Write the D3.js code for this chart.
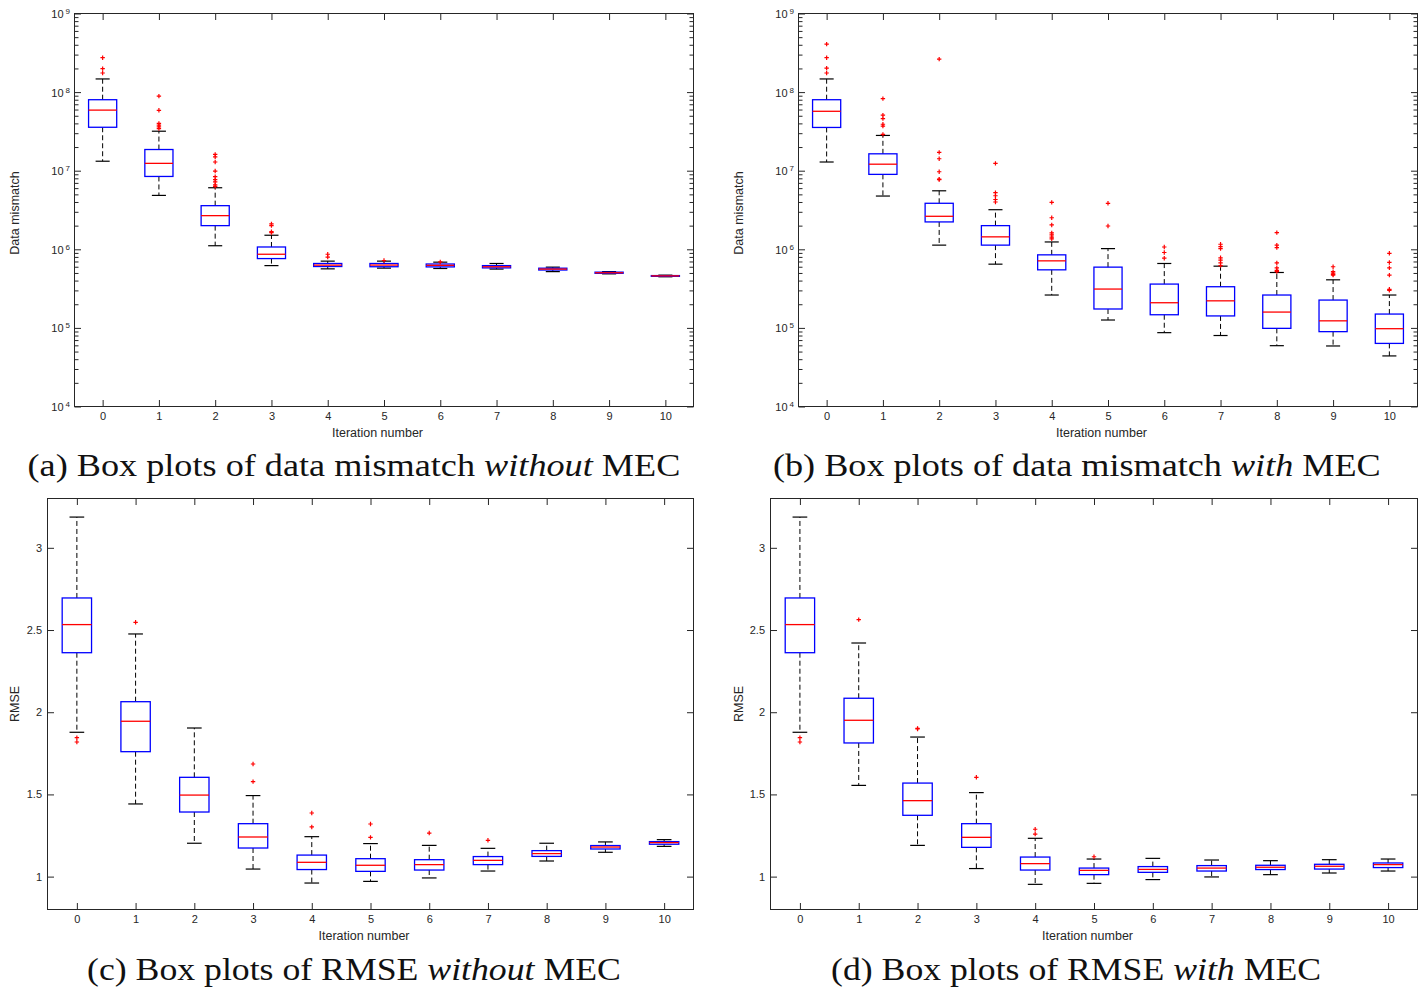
<!DOCTYPE html>
<html><head><meta charset="utf-8">
<script src="https://cdn.jsdelivr.net/npm/d3@7"></script>
<style>body{margin:0;background:#fff;} svg{display:block;}</style>
</head><body>
<svg id="chart" width="1424" height="991"></svg>
<script>
// ---------- categories & tick labels ----------
const iterations = [0, 1, 2, 3, 4, 5, 6, 7, 8, 9, 10];
const logTicks = [1e4, 1e5, 1e6, 1e7, 1e8, 1e9];
const rmseTicks = [1, 1.5, 2, 2.5, 3];
const captions = [
  ["(a) Box plots of data mismatch ", "without", " MEC"],
  ["(b) Box plots of data mismatch ", "with", " MEC"],
  ["(c) Box plots of RMSE ", "without", " MEC"],
  ["(d) Box plots of RMSE ", "with", " MEC"]
];

// ---------- (a) data mismatch without MEC ----------
const aHigh = [1.47e8, 3.18e7, 6.07e6, 1.51e6, 7.07e5, 7.07e5, 6.86e5, 6.6e5, 5.93e5, 5.2e5, 4.69e5];
const aQ3   = [8.0e7, 1.86e7, 3.59e6, 1.07e6, 6.6e5, 6.6e5, 6.5e5, 6.2e5, 5.75e5, 5.12e5, 4.63e5];
const aMed  = [5.9e7, 1.24e7, 2.68e6, 8.65e5, 6.29e5, 6.3e5, 6.25e5, 6.0e5, 5.6e5, 5.03e5, 4.59e5];
const aQ1   = [3.57e7, 8.45e6, 2.0e6, 7.62e5, 6.04e5, 6.0e5, 5.97e5, 5.8e5, 5.45e5, 4.95e5, 4.53e5];
const aLow  = [1.32e7, 4.85e6, 1.11e6, 6.2e5, 5.64e5, 5.76e5, 5.7e5, 5.6e5, 5.2e5, 4.87e5, 4.47e5];
const aOut  = [[2.74e8, 1.99e8, 1.75e8], [8.9e7, 5.87e7, 4.0e7, 3.8e7, 3.6e7, 3.44e7],
  [1.61e7, 1.5e7, 1.29e7, 9.9e6, 8.4e6, 7.7e6, 7.2e6, 6.6e6, 6.3e6], [2.1e6, 2.0e6, 1.68e6, 1.63e6],
  [8.65e5, 7.94e5], [7.2e5], [6.9e5], [], [], [], []];

// ---------- (b) data mismatch with MEC ----------
const bHigh = [1.47e8, 2.81e7, 5.55e6, 3.19e6, 1.24e6, 1.02e6, 6.6e5, 6.1e5, 5.07e5, 4.09e5, 2.62e5];
const bQ3   = [8.0e7, 1.64e7, 3.85e6, 2.0e6, 8.5e5, 5.93e5, 3.61e5, 3.34e5, 2.62e5, 2.26e5, 1.5e5];
const bMed  = [5.7e7, 1.21e7, 2.63e6, 1.44e6, 7.13e5, 3.12e5, 2.09e5, 2.21e5, 1.59e5, 1.23e5, 9.77e4];
const bQ1   = [3.55e7, 8.98e6, 2.23e6, 1.13e6, 5.48e5, 1.74e5, 1.47e5, 1.42e5, 9.87e4, 8.96e4, 6.35e4];
const bLow  = [1.29e7, 4.76e6, 1.13e6, 6.47e5, 2.62e5, 1.26e5, 8.7e4, 8.0e4, 5.94e4, 5.89e4, 4.4e4];
const bOut  = [[4.08e8, 2.74e8, 2.02e8, 1.75e8], [8.26e7, 5.08e7, 4.6e7, 3.9e7, 3.7e7, 2.9e7],
  [2.63e8, 1.71e7, 1.42e7, 9.7e6, 7.82e6, 7.7e6], [1.24e7, 5.25e6, 4.8e6, 4.3e6, 4.0e6],
  [3.95e6, 2.52e6, 2.04e6, 1.62e6, 1.53e6, 1.43e6, 1.36e6], [3.85e6, 1.98e6], [1.07e6, 9.1e5, 7.7e5],
  [1.16e6, 1.08e6, 1.02e6, 7.8e5, 7.3e5, 6.7e5, 6.2e5], [1.63e6, 1.13e6, 1.05e6, 6.7e5, 5.8e5, 5.4e5, 5.2e5],
  [6.0e5, 5.2e5, 4.97e5, 4.8e5, 4.7e5], [8.9e5, 6.8e5, 5.8e5, 4.69e5, 3.1e5, 3.0e5]];

// ---------- (c) RMSE without MEC ----------
const cHigh = [3.187, 2.476, 1.904, 1.493, 1.243, 1.201, 1.190, 1.172, 1.203, 1.211, 1.225];
const cQ3   = [2.695, 2.064, 1.604, 1.322, 1.131, 1.109, 1.103, 1.122, 1.158, 1.189, 1.213];
const cMed  = [2.533, 1.945, 1.496, 1.241, 1.087, 1.069, 1.073, 1.099, 1.140, 1.180, 1.207];
const cQ1   = [2.362, 1.760, 1.393, 1.174, 1.043, 1.032, 1.040, 1.073, 1.123, 1.168, 1.197];
const cLow  = [1.878, 1.442, 1.203, 1.046, 0.961, 0.971, 0.992, 1.034, 1.095, 1.148, 1.184];
const cOut  = [[1.845, 1.819], [2.547], [], [1.685, 1.578], [1.387, 1.302], [1.320, 1.239], [1.265], [1.221], [], [], []];

// ---------- (d) RMSE with MEC ----------
const dHigh = [3.187, 2.421, 1.849, 1.511, 1.233, 1.107, 1.111, 1.101, 1.097, 1.103, 1.107];
const dQ3   = [2.695, 2.085, 1.569, 1.322, 1.119, 1.052, 1.061, 1.067, 1.069, 1.075, 1.083];
const dMed  = [2.533, 1.951, 1.462, 1.239, 1.079, 1.038, 1.044, 1.052, 1.057, 1.063, 1.073];
const dQ1   = [2.362, 1.813, 1.373, 1.178, 1.040, 1.012, 1.026, 1.034, 1.043, 1.046, 1.055];
const dLow  = [1.878, 1.555, 1.190, 1.049, 0.953, 0.959, 0.982, 0.998, 1.012, 1.022, 1.034];
const dOut  = [[1.845, 1.819], [2.563], [1.902, 1.898], [1.604], [1.288, 1.259], [1.121], [], [], [], [], []];

// ---------- drawing ----------
const svg = d3.select("#chart");
const AX = "#262626";
const SANS = "'Liberation Sans', Arial, Helvetica, sans-serif";

function build(high, q3, med, q1, low, out) {
  return iterations.map((it, i) => ({it, high: high[i], q3: q3[i], med: med[i], q1: q1[i], low: low[i], out: out[i]}));
}

function styleAxis(sel) {
  sel.select(".domain").remove();
  sel.selectAll(".tick line").attr("stroke", AX).attr("stroke-width", 1);
  sel.selectAll(".tick text").attr("fill", AX).attr("font-family", SANS).attr("font-size", 11);
}

function drawPanel(p) {
  const g = svg.append("g");
  const x = d3.scaleLinear().domain([-0.5, 10.5]).range([p.left, p.right]);
  const y = (p.log ? d3.scaleLog() : d3.scaleLinear()).domain(p.domain).range([p.bottom, p.top]);
  const unit = x(1) - x(0);
  const hb = unit * 0.25, hc = unit * 0.125;
  const T = 6.5, Tm = 4;

  // axes (ticks pointing inward, MATLAB style)
  g.append("g").attr("transform", `translate(0,${p.bottom})`)
    .call(d3.axisBottom(x).tickValues(iterations).tickSizeInner(-T).tickSizeOuter(0).tickPadding(6)).call(styleAxis);
  g.append("g").attr("transform", `translate(0,${p.top})`)
    .call(d3.axisTop(x).tickValues(iterations).tickSizeInner(-T).tickSizeOuter(0).tickFormat(() => "")).call(styleAxis);

  if (p.log) {
    const minor = [];
    logTicks.slice(0, -1).forEach(t => { for (let m = 2; m <= 9; m++) minor.push(t * m); });
    const left = g.append("g").attr("transform", `translate(${p.left},0)`)
      .call(d3.axisLeft(y).tickValues(logTicks).tickSizeInner(-T).tickSizeOuter(0).tickPadding(4.5).tickFormat(() => "")).call(styleAxis);
    left.selectAll(".tick text").attr("dy", "0.36em").each(function(d) {
      const t = d3.select(this);
      t.append("tspan").text("10");
      t.append("tspan").attr("dx", 2).attr("dy", "-0.5em").attr("font-size", 8).text(Math.round(Math.log10(d)));
    });
    g.append("g").attr("transform", `translate(${p.left},0)`)
      .call(d3.axisLeft(y).tickValues(minor).tickSizeInner(-Tm).tickSizeOuter(0).tickFormat(() => "")).call(styleAxis);
    g.append("g").attr("transform", `translate(${p.right},0)`)
      .call(d3.axisRight(y).tickValues(logTicks).tickSizeInner(-T).tickSizeOuter(0).tickFormat(() => "")).call(styleAxis);
    g.append("g").attr("transform", `translate(${p.right},0)`)
      .call(d3.axisRight(y).tickValues(minor).tickSizeInner(-Tm).tickSizeOuter(0).tickFormat(() => "")).call(styleAxis);
  } else {
    g.append("g").attr("transform", `translate(${p.left},0)`)
      .call(d3.axisLeft(y).tickValues(rmseTicks).tickSizeInner(-T).tickSizeOuter(0).tickPadding(5.5).tickFormat(d => String(d))).call(styleAxis);
    g.append("g").attr("transform", `translate(${p.right},0)`)
      .call(d3.axisRight(y).tickValues(rmseTicks).tickSizeInner(-T).tickSizeOuter(0).tickFormat(() => "")).call(styleAxis);
  }

  // frame
  g.append("rect").attr("x", p.left).attr("y", p.top).attr("width", p.right - p.left).attr("height", p.bottom - p.top)
    .attr("fill", "none").attr("stroke", AX).attr("stroke-width", 1);

  // labels
  g.append("text").attr("x", (p.left + p.right) / 2 - 6.5).attr("y", p.bottom + 30)
    .attr("text-anchor", "middle").attr("font-family", SANS).attr("font-size", 12.5).attr("fill", AX)
    .text("Iteration number");
  g.append("text").attr("transform", `translate(${p.ylx},${p.yly}) rotate(-90)`)
    .attr("text-anchor", "middle").attr("dominant-baseline", "central").attr("font-family", SANS)
    .attr("font-size", 12.5).attr("fill", AX).text(p.ylabel);

  // boxes
  const data = p.data;
  const bx = g.append("g").selectAll("g").data(data).join("g");
  // whiskers
  bx.append("line").attr("x1", d => x(d.it)).attr("x2", d => x(d.it)).attr("y1", d => y(d.q3)).attr("y2", d => y(d.high))
    .attr("stroke", "#000").attr("stroke-width", 1).attr("stroke-dasharray", "5,3");
  bx.append("line").attr("x1", d => x(d.it)).attr("x2", d => x(d.it)).attr("y1", d => y(d.q1)).attr("y2", d => y(d.low))
    .attr("stroke", "#000").attr("stroke-width", 1).attr("stroke-dasharray", "5,3");
  // caps
  bx.append("line").attr("x1", d => x(d.it) - hc).attr("x2", d => x(d.it) + hc).attr("y1", d => y(d.high)).attr("y2", d => y(d.high))
    .attr("stroke", "#000").attr("stroke-width", 1.2);
  bx.append("line").attr("x1", d => x(d.it) - hc).attr("x2", d => x(d.it) + hc).attr("y1", d => y(d.low)).attr("y2", d => y(d.low))
    .attr("stroke", "#000").attr("stroke-width", 1.2);
  // box
  bx.append("rect").attr("x", d => x(d.it) - hb).attr("width", 2 * hb)
    .attr("y", d => y(d.q3)).attr("height", d => Math.max(0.5, y(d.q1) - y(d.q3)))
    .attr("fill", "none").attr("stroke", "#0000ff").attr("stroke-width", 1.3);
  // median
  bx.append("line").attr("x1", d => x(d.it) - hb).attr("x2", d => x(d.it) + hb).attr("y1", d => y(d.med)).attr("y2", d => y(d.med))
    .attr("stroke", "#ff0000").attr("stroke-width", 1.3);
  // outliers
  bx.selectAll("path.out").data(d => d.out.map(v => ({it: d.it, v}))).join("path").attr("class", "out")
    .attr("d", o => { const cx = x(o.it), cy = y(o.v), r = 2.2; return `M${cx - r},${cy}H${cx + r}M${cx},${cy - r}V${cy + r}`; })
    .attr("stroke", "#ff0000").attr("stroke-width", 1.2).attr("fill", "none");
}

drawPanel({left: 74.5, right: 693.5, top: 13.5, bottom: 406.5, log: true, domain: [1e4, 1e9],
  ylabel: "Data mismatch", ylx: 15, yly: 213, data: build(aHigh, aQ3, aMed, aQ1, aLow, aOut)});
drawPanel({left: 798.5, right: 1417.5, top: 13.5, bottom: 406.5, log: true, domain: [1e4, 1e9],
  ylabel: "Data mismatch", ylx: 739, yly: 213, data: build(bHigh, bQ3, bMed, bQ1, bLow, bOut)});
drawPanel({left: 47.5, right: 693.5, top: 498.5, bottom: 909.5, log: false, domain: [0.8, 3.3],
  ylabel: "RMSE", ylx: 15, yly: 704, data: build(cHigh, cQ3, cMed, cQ1, cLow, cOut)});
drawPanel({left: 770.5, right: 1417.5, top: 498.5, bottom: 909.5, log: false, domain: [0.8, 3.3],
  ylabel: "RMSE", ylx: 739, yly: 704, data: build(dHigh, dQ3, dMed, dQ1, dLow, dOut)});

// captions
const capPos = [[354, 476, 653], [1077, 476, 608], [354, 980, 534], [1076, 980, 490]];
captions.forEach((c, i) => {
  const [cx, cy, w] = capPos[i];
  const t = svg.append("text").attr("x", 0).attr("y", 0)
    .attr("font-family", "'Liberation Serif', 'Times New Roman', serif").attr("font-size", 31)
    .attr("fill", "#111").style("white-space", "pre");
  t.append("tspan").text(c[0]);
  t.append("tspan").attr("font-style", "italic").text(c[1]);
  t.append("tspan").text(c[2]);
  const bw = t.node().getComputedTextLength();
  const sx = w / bw;
  t.attr("transform", `translate(${cx - w / 2},${cy}) scale(${sx},1)`);
});
</script>
</body></html>
